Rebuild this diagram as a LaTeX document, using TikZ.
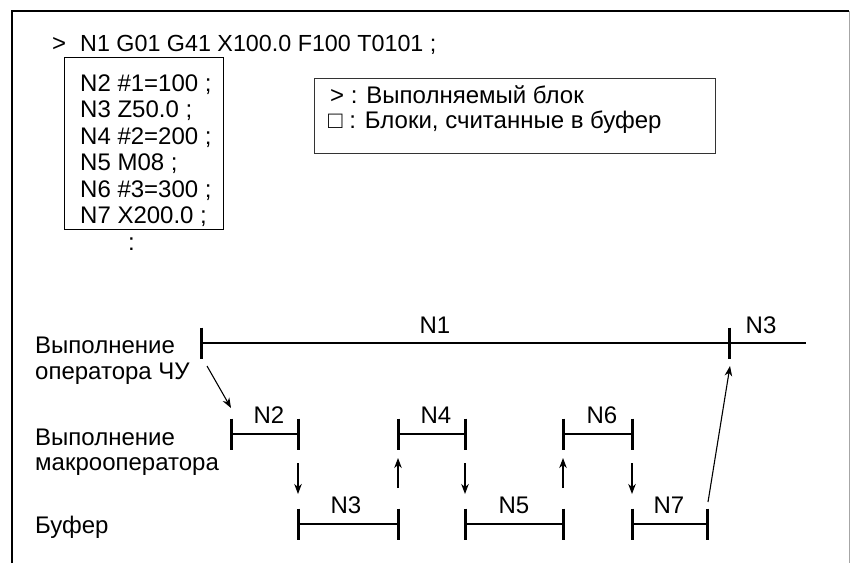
\documentclass[tikz,border=0pt]{standalone}
\usepackage{fontspec}
\setmainfont{Liberation Sans}
\usetikzlibrary{arrows.meta}
\begin{document}
\begin{tikzpicture}[x=1pt,y=-1pt,
  txt/.style={inner sep=0pt, anchor=base west, font=\fontsize{24}{28}\selectfont},
  lbl/.style={inner sep=0pt, anchor=base, font=\fontsize{24}{28}\selectfont},
  bar/.style={line width=2.6pt},
  tickmark/.style={line width=3pt},
  arr/.style={line width=1.1pt, -{Stealth[length=10pt,width=7.5pt,inset=3pt]}},
  boxframe/.style={draw, line width=1.3pt, inner sep=0pt, anchor=north west},
]
\useasboundingbox (0,0) rectangle (850,563);
% outer frame (open at the bottom)
\draw[line width=2pt] (12,563) -- (12,11) -- (849,11);
\draw[gray!70, line width=1pt] (849,11) -- (849,563);

% program listing
\node[txt] (mark) at (52,51) {>};
\node[txt, font=\fontsize{23.3}{28}\selectfont] (n1line) at (80,51) {N1 G01 G41 X100.0 F100 T0101 ;};
\node[boxframe, minimum width=159pt, minimum height=172pt] (bufbox) at (64,57) {};
\node[txt] (l2) at (80,91) {N2 \#1=100 ;};
\node[txt] (l3) at (80,117.5) {N3 Z50.0 ;};
\node[txt] (l4) at (80,144) {N4 \#2=200 ;};
\node[txt] (l5) at (80,170) {N5 M08 ;};
\node[txt] (l6) at (80,197) {N6 \#3=300 ;};
\node[txt] (l7) at (80,223) {N7 X200.0 ;};
\node[txt] (dots) at (128,250) {:};

% legend
\node[boxframe, draw=black!80, minimum width=401pt, minimum height=75pt] (legend) at (314,78) {};
\node[txt] (leg1) at (330,103) {> : Выполняемый блок};
\node[txt] (leg2) at (328,128) {□ : Блоки, считанные в буфер};

% row labels
\node[txt] (r1a) at (35,353) {Выполнение};
\node[txt] (r1b) at (35,379) {оператора ЧУ};
\node[txt] (r2a) at (35,445) {Выполнение};
\node[txt] (r2b) at (35,470) {макрооператора};
\node[txt] (r3) at (35,533) {Буфер};

% time axis coordinates
\coordinate (t0) at (201,343); \coordinate (t1) at (729,343); \coordinate (tE) at (806,343);
\coordinate (m2a) at (231,434); \coordinate (m2b) at (298,434);
\coordinate (m4a) at (398,434); \coordinate (m4b) at (465,434);
\coordinate (m6a) at (563,434); \coordinate (m6b) at (632,434);
\coordinate (b3a) at (298,524); \coordinate (b3b) at (398,524);
\coordinate (b5a) at (465,524); \coordinate (b5b) at (563,524);
\coordinate (b7a) at (632,524); \coordinate (b7b) at (707,524);

% bars
\draw[bar] (t0) -- (tE);
\foreach \a/\b in {m2a/m2b, m4a/m4b, m6a/m6b, b3a/b3b, b5a/b5b, b7a/b7b}
  \draw[bar] (\a) -- (\b);
% ticks
\foreach \p in {t0, t1, m2a, m2b, m4a, m4b, m6a, m6b, b3a, b3b, b5a, b5b, b7a, b7b}
  \draw[tickmark] ([yshift=15.5pt]\p) -- ([yshift=-15.5pt]\p);

% bar labels
\node[lbl] (lN1) at (435,333) {N1};
\node[lbl] (lN3t) at (761,333) {N3};
\node[lbl] (lN2) at (269,423) {N2};
\node[lbl] (lN4) at (436,423) {N4};
\node[lbl] (lN6) at (602,423) {N6};
\node[lbl] (lN3) at (346,513) {N3};
\node[lbl] (lN5) at (514,513) {N5};
\node[lbl] (lN7) at (669,513) {N7};

% arrows
\coordinate (d1s) at (298,463); \coordinate (d1e) at (298,494);
\coordinate (u1s) at (398,488); \coordinate (u1e) at (398,458);
\coordinate (d2s) at (465,463); \coordinate (d2e) at (465,494);
\coordinate (u2s) at (563,488); \coordinate (u2e) at (563,458);
\coordinate (d3s) at (632,463); \coordinate (d3e) at (632,494);
\coordinate (g1s) at (207,366); \coordinate (g1e) at (231,408);
\coordinate (g2s) at (708,502); \coordinate (g2e) at (730,366);
\foreach \s/\e in {d1s/d1e, u1s/u1e, d2s/d2e, u2s/u2e, d3s/d3e, g1s/g1e, g2s/g2e}
  \draw[arr] (\s) -- (\e);
\end{tikzpicture}
\end{document}
